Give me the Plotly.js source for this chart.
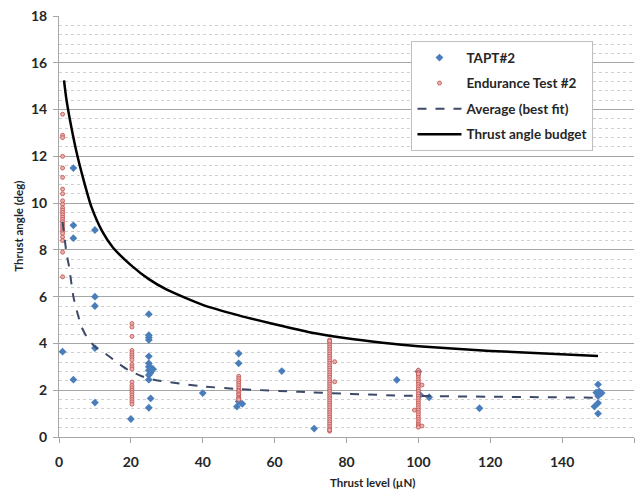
<!DOCTYPE html>
<html>
<head>
<meta charset="utf-8">
<script src="https://cdn.plot.ly/plotly-3.0.1.min.js"></script>
<style>html,body{margin:0;padding:0;background:#fff;}#chart{width:644px;height:494px;}</style>
</head>
<body>
<div id="chart"></div>
<script>
// TAPT#2 measurements
const taptX = [1, 4, 4, 4, 4, 10, 10, 10, 10, 10, 20,
  25, 25, 25, 25, 25, 25, 25, 25.7, 25, 26.2, 25.5, 25, 25, 25.5, 25,
  40, 50, 50, 50, 51, 49.5, 62, 71, 94, 100, 100.5, 103, 117,
  150, 149.5, 150.3, 151, 150, 150, 149, 150];
const taptY = [3.65, 11.5, 9.05, 8.5, 2.45, 8.85, 6.0, 5.6, 3.8, 1.47, 0.77,
  5.25, 4.35, 4.25, 4.15, 3.45, 3.15, 3.0, 2.95, 2.85, 2.9, 2.75, 2.65, 2.45, 1.65, 1.25,
  1.88, 3.57, 3.15, 1.52, 1.42, 1.3, 2.82, 0.36, 2.44, 2.8, 1.8, 1.7, 1.23,
  2.25, 1.9, 1.95, 1.88, 1.75, 1.45, 1.3, 1.0];

// Endurance Test #2 measurements
const endX = [
  1, 1, 1, 1, 1, 1, 1, 1, 1, 1, 1, 1, 1, 1, 1, 1, 1, 1, 1, 1, 1, 1, 1, 1, 1, 1,
  20.3, 20.3, 20.3, 20.3, 20.3, 20.3, 20.3, 20.3, 20.3, 20.3, 20.3, 20.3, 20.3, 20.3, 20.3, 20.3, 20.3, 20.3, 20.3, 20.3, 20.3,
  50, 50, 50, 50, 50, 50, 50, 50, 50, 50, 50, 50, 50,
  75.3, 75.3, 75.3, 75.3, 75.3, 75.3, 75.3, 75.3, 75.3, 75.3, 75.3, 75.3, 75.3, 75.3, 75.3, 75.3, 75.3, 75.3, 75.3, 75.3,
  75.3, 75.3, 75.3, 75.3, 75.3, 75.3, 75.3, 75.3, 75.3, 75.3, 75.3, 75.3, 75.3, 75.3, 75.3, 75.3, 75.3, 75.3, 75.3, 75.3,
  76.7, 76.7, 75.3, 75.3,
  100, 100, 100, 100, 100, 100, 100, 100, 100, 100, 100, 100, 100, 100, 100, 100, 100, 100, 100, 100,
  100, 100, 100, 100, 100, 100, 100, 101, 98.9, 101];
const endY = [
  13.8, 12.9, 12.8, 12.0, 11.5, 11.1, 10.6, 10.4, 10.1, 9.95, 9.8, 9.7, 9.6, 9.5, 9.4, 9.3, 9.2, 9.1, 9.0, 8.9, 8.8, 8.7, 8.55, 8.4, 7.9, 6.85,
  4.85, 4.7, 4.3, 3.7, 3.6, 3.5, 3.4, 3.3, 3.1, 3.0, 2.9, 2.35, 2.2, 2.1, 2.0, 1.9, 1.8, 1.7, 1.6, 1.5, 1.4,
  2.6, 2.5, 2.4, 2.3, 2.2, 2.1, 2.0, 1.95, 1.85, 1.8, 1.7, 1.65, 1.6,
  4.15, 4.05, 3.95, 3.85, 3.75, 3.65, 3.55, 3.45, 3.35, 3.25, 3.15, 3.05, 2.95, 2.85, 2.75, 2.65, 2.55, 2.45, 2.35, 2.25,
  2.15, 2.05, 1.95, 1.85, 1.75, 1.65, 1.55, 1.45, 1.35, 1.25, 1.15, 1.05, 0.95, 0.85, 0.75, 0.65, 0.55, 0.45, 0.35, 0.25,
  3.22, 2.36, 4.1, 0.3,
  2.85, 2.75, 2.65, 2.55, 2.45, 2.35, 2.25, 2.15, 2.05, 1.95, 1.85, 1.75, 1.65, 1.55, 1.45, 1.35, 1.25, 1.15, 1.05, 0.95,
  0.85, 0.75, 0.65, 0.55, 0.48, 0.42, 2.7, 2.22, 1.15, 0.47];

// Average (best fit)
const avgX = [1, 2.1, 2.8, 4, 4.9, 6.3, 7.7, 10, 12.8, 16.5, 19.3, 23, 26.7, 39, 50, 67, 95, 122, 150];
const avgY = [9.2, 7.85, 7.28, 6.0, 5.43, 4.7, 4.29, 3.86, 3.58, 3.15, 2.86, 2.6, 2.44, 2.18, 2.05, 1.93, 1.77, 1.72, 1.68];

// Thrust angle budget
const budX = [1.4, 2, 3, 5, 7, 9, 12, 15, 20, 25, 30, 40, 50, 60, 70, 80, 90, 100, 120, 150];
const budY = [15.25, 14.5, 13.6, 12.1, 10.9, 9.85, 8.8, 8.1, 7.35, 6.75, 6.3, 5.65, 5.2, 4.82, 4.47, 4.22, 4.03, 3.88, 3.68, 3.46];

const FONT = 'Lato, "Liberation Sans", Arial, sans-serif';

const traces = [
  {x: taptX, y: taptY, type: 'scatter', mode: 'markers', name: 'TAPT#2', legendgroup: 'a',
   marker: {symbol: 'diamond', size: 6, color: '#4a7ebb', line: {width: 0}}},
  {x: endX, y: endY, type: 'scatter', mode: 'markers', name: 'Endurance Test #2', legendgroup: 'b',
   marker: {symbol: 'circle', size: 4, color: '#e9b0ae', line: {width: 0.8, color: '#c0504d'}}},
  {x: avgX, y: avgY, type: 'scatter', mode: 'lines', name: 'Average (best fit)', legendgroup: 'c',
   line: {color: '#3c4a68', width: 2, dash: 'dash', shape: 'spline', smoothing: 0.6}},
  {x: budX, y: budY, type: 'scatter', mode: 'lines', name: 'Thrust angle budget', legendgroup: 'd',
   line: {color: '#000000', width: 2.5, shape: 'spline', smoothing: 0.6}}
];

const layout = {
  width: 644, height: 494,
  margin: {l: 59, r: 10, t: 16, b: 57},
  paper_bgcolor: '#ffffff', plot_bgcolor: '#ffffff',
  font: {family: FONT, color: '#262626', size: 12},
  showlegend: true,
  legend: {x: 0.613, y: 0.94, xanchor: 'left', yanchor: 'top',
    bgcolor: '#ffffff', bordercolor: '#bfbfbf', borderwidth: 1,
    font: {family: FONT, size: 13.5, color: '#262626', weight: 'bold'},
    traceorder: 'grouped', tracegroupgap: 5, itemwidth: 44},
  xaxis: {range: [0, 160], dtick: 20, tick0: 0, showgrid: false, zeroline: false,
    showline: true, linecolor: '#a6a6a6', linewidth: 1,
    ticks: 'outside', ticklen: 5, tickcolor: '#a6a6a6', ticklabelstandoff: 7,
    tickfont: {family: FONT, size: 14, color: '#262626', weight: 'bold'}},
  yaxis: {range: [0, 18], dtick: 2, tick0: 0, showgrid: true, gridcolor: '#a6a6a6', gridwidth: 1,
    zeroline: false, showline: true, linecolor: '#a6a6a6', linewidth: 1,
    ticks: 'outside', ticklen: 5, tickcolor: '#a6a6a6', ticklabelstandoff: 3,
    minor: {dtick: 0.4, showgrid: true, gridcolor: '#d0d0d0', griddash: 'dot', gridwidth: 1},
    tickfont: {family: FONT, size: 14, color: '#262626', weight: 'bold'}},
  annotations: [
    {text: 'Thrust level (µN)', xref: 'paper', yref: 'paper', x: 0.545, y: -0.108,
     xanchor: 'center', yanchor: 'middle', showarrow: false,
     font: {family: FONT, size: 11.5, color: '#262626', weight: 'bold'}},
    {text: 'Thrust angle (deg)', xref: 'paper', yref: 'paper', x: -0.071, y: 0.5,
     xanchor: 'center', yanchor: 'middle', showarrow: false, textangle: -90,
     font: {family: FONT, size: 11.5, color: '#262626', weight: 'bold'}}
  ]
};

Plotly.newPlot('chart', traces, layout, {displayModeBar: false, staticPlot: true});
</script>
</body>
</html>
